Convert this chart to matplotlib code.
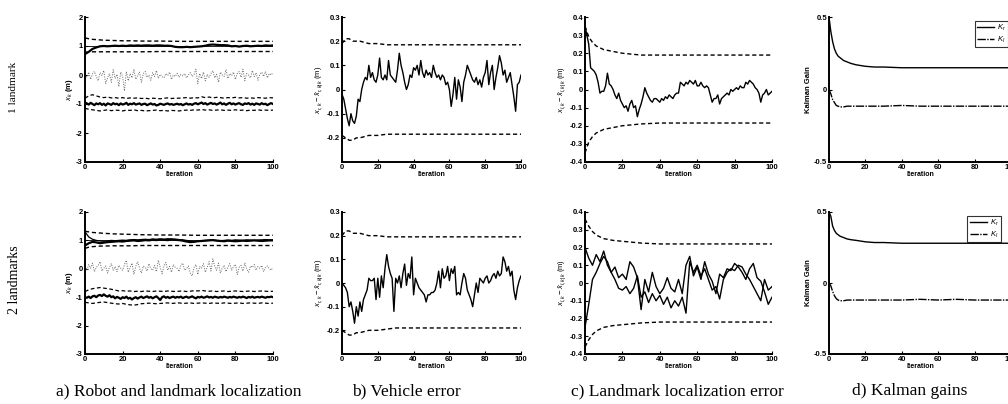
import matplotlib
matplotlib.use("Agg")
import matplotlib.pyplot as plt
import numpy as np

plt.rcParams['font.family'] = ['Liberation Sans', 'DejaVu Sans']
plt.rcParams['axes.unicode_minus'] = False
plt.rcParams['mathtext.fontset'] = 'custom'
plt.rcParams['mathtext.rm'] = 'Liberation Sans'
plt.rcParams['mathtext.it'] = 'Liberation Sans:italic'

# ---------------- data ----------------
iters = list(range(101))
iters2 = list(range(0, 101, 2))
bound_x = [0, 2, 4, 6, 8, 10, 15, 20, 25, 30, 40, 50, 60, 70, 80, 90, 100]

# panel a, 1 landmark
a1_landmark_est = [0.72, 0.80, 0.90, 0.95, 0.99, 1.00, 0.99, 1.00, 1.01, 1.00, 1.01, 1.00, 1.02, 1.01, 1.02, 1.01,
                   1.02, 1.02, 1.01, 1.02, 1.02, 1.01, 1.01, 1.00, 0.97, 0.96, 0.96, 0.97, 0.96, 0.97, 0.98, 0.99,
                   1.01, 1.04, 1.05, 1.04, 1.03, 1.03, 1.02, 0.99, 1.00, 0.98, 1.00, 1.01, 0.99, 1.00, 1.01, 1.00,
                   1.02, 1.01, 1.02]
a1_landmark_up = [1.28, 1.25, 1.23, 1.22, 1.21, 1.20, 1.19, 1.18, 1.18, 1.17, 1.17, 1.16, 1.16, 1.16, 1.16, 1.16, 1.16]
a1_landmark_lo = [0.79, 0.79, 0.80, 0.80, 0.80, 0.80, 0.80, 0.80, 0.80, 0.80, 0.81, 0.81, 0.81, 0.81, 0.81, 0.81, 0.81]
a1_meas = [0.02, -0.08, 0.10, -0.15, 0.05, 0.12, -0.05, -0.20, 0.08, -0.02, 0.15, -0.30, -0.10, 0.05, -0.25, 0.18,
           -0.12, 0.02, -0.40, 0.10, -0.05, -0.55, 0.12, -0.20, 0.05, -0.10, 0.20, -0.15, -0.02, 0.10, -0.25, 0.05,
           0.12, -0.08, 0.00, -0.18, 0.08, -0.05, 0.15, -0.12, 0.02, -0.05, -0.10, 0.05, -0.02, 0.10, -0.15, 0.00,
           -0.05, 0.06, -0.08, 0.02, -0.03, 0.05, -0.10, 0.00, 0.08, -0.05, 0.02, 0.20, -0.30, 0.05, -0.12, 0.10,
           -0.20, 0.02, -0.08, 0.05, 0.15, -0.10, 0.02, -0.25, 0.10, 0.00, -0.05, 0.18, -0.12, 0.05, -0.02, 0.10,
           -0.15, 0.05, 0.12, -0.08, 0.20, -0.20, 0.05, 0.00, -0.10, 0.15, -0.05, 0.08, -0.18, 0.02, 0.10, -0.05,
           0.12, -0.10, 0.05, 0.00, 0.08]
a1_robot_est = [-0.95, -0.98, -1.02, -0.96, -1.00, -1.04, -0.98, -1.01, -0.97, -1.03, -0.99, -1.05, -0.98, -1.00,
                -1.03, -0.97, -1.01, -0.99, -1.04, -0.98, -1.02, -1.00, -0.96, -1.03, -0.99, -1.01, -0.97, -1.02,
                -1.00, -0.98, -1.03, -1.00, -0.99, -1.04, -1.01, -0.98, -1.02, -1.00, -1.05, -1.03, -0.99, -1.01,
                -1.03, -1.00, -0.98, -1.02, -1.00, -1.03, -1.01, -0.99, -1.02, -1.00, -1.04, -1.01, -0.98, -1.02,
                -1.00, -1.03, -0.99, -0.97, -1.01, -0.98, -0.95, -1.00, -0.97, -1.02, -0.99, -0.96, -1.00, -0.98,
                -1.02, -0.99, -0.95, -1.01, -0.98, -1.03, -0.99, -0.96, -1.01, -0.98, -1.02, -0.99, -0.97, -1.01,
                -1.03, -0.98, -1.00, -0.97, -1.02, -0.99, -1.03, -0.98, -1.00, -1.02, -0.97, -1.01, -0.99, -1.04,
                -1.00, -0.97, -1.00]
a1_robot_up = [-0.80, -0.72, -0.68, -0.72, -0.76, -0.78, -0.76, -0.79, -0.78, -0.80, -0.78, -0.81, -0.79, -0.80,
               -0.79, -0.81, -0.80, -0.82, -0.80, -0.81, -0.82, -0.80, -0.79, -0.81, -0.80, -0.80, -0.79, -0.78,
               -0.80, -0.78, -0.79, -0.75, -0.78, -0.76, -0.79, -0.77, -0.78, -0.80, -0.78, -0.79, -0.77, -0.79,
               -0.78, -0.80, -0.79, -0.80, -0.78, -0.79, -0.80, -0.78, -0.79]
a1_robot_lo = [-1.15, -1.18, -1.20, -1.22, -1.24, -1.22, -1.20, -1.23, -1.21, -1.22, -1.24, -1.21, -1.22, -1.20,
               -1.23, -1.22, -1.24, -1.23, -1.22, -1.21, -1.23, -1.22, -1.24, -1.22, -1.23, -1.24, -1.22, -1.21,
               -1.22, -1.20, -1.21, -1.19, -1.21, -1.20, -1.22, -1.21, -1.20, -1.22, -1.21, -1.22, -1.20, -1.22,
               -1.21, -1.23, -1.21, -1.22, -1.20, -1.22, -1.21, -1.22, -1.21]

# panel a, 2 landmarks
a2_landmark1_est = [1.30, 1.12, 1.04, 1.00, 0.98, 0.97, 0.98, 1.00, 0.99, 1.00, 1.01, 1.00, 1.02, 1.03, 1.02, 1.03,
                    1.04, 1.03, 1.05, 1.04, 1.05, 1.04, 1.06, 1.05, 1.04, 1.03, 1.02, 1.00, 0.98, 0.96, 0.97, 0.99,
                    1.00, 1.01, 1.02, 1.00, 0.99, 1.00, 1.01, 1.00, 1.02, 1.01, 1.00, 1.02, 1.01, 1.00, 1.01, 1.02,
                    1.03, 1.02, 1.02]
a2_landmark2_est = [0.82, 0.90, 0.95, 0.93, 0.90, 0.92, 0.94, 0.95, 0.96, 0.97, 0.96, 0.98, 0.99, 1.00, 0.98, 0.99,
                    1.01, 1.00, 1.02, 1.01, 1.03, 1.02, 1.01, 1.03, 1.02, 1.01, 0.99, 0.96, 0.94, 0.95, 0.97, 0.98,
                    0.99, 1.00, 1.01, 0.99, 0.98, 0.97, 0.99, 0.98, 0.97, 0.98, 0.99, 0.98, 0.99, 1.00, 0.99, 0.98,
                    0.99, 1.00, 1.00]
a2_landmark_up = [1.32, 1.30, 1.28, 1.27, 1.26, 1.25, 1.23, 1.22, 1.21, 1.20, 1.19, 1.19, 1.18, 1.18, 1.18, 1.18, 1.18]
a2_landmark_lo = [0.72, 0.76, 0.78, 0.79, 0.80, 0.80, 0.81, 0.81, 0.81, 0.82, 0.82, 0.82, 0.82, 0.82, 0.82, 0.82, 0.82]
a2_meas = [0.10, -0.05, 0.15, 0.02, 0.20, -0.10, 0.05, 0.12, 0.25, -0.08, 0.02, 0.10, -0.15, 0.05, 0.18, -0.05,
           0.08, -0.10, 0.12, 0.02, -0.05, 0.15, 0.30, -0.12, 0.05, 0.20, -0.20, 0.08, 0.25, 0.02, -0.15, 0.10,
           0.05, -0.08, 0.18, 0.00, -0.05, 0.12, -0.10, 0.30, 0.05, -0.18, 0.10, 0.22, -0.05, 0.08, -0.12, 0.15,
           0.05, 0.02, -0.10, 0.12, 0.20, -0.05, 0.00, 0.10, -0.15, -0.25, 0.05, 0.15, -0.20, 0.08, 0.02, 0.18,
           -0.12, 0.05, 0.25, -0.08, 0.35, 0.10, -0.05, 0.20, -0.15, 0.02, 0.12, -0.10, 0.05, 0.18, -0.05, 0.08,
           0.15, -0.20, 0.05, 0.12, -0.08, 0.20, 0.00, -0.12, 0.10, 0.05, 0.15, -0.05, 0.08, 0.02, 0.12, -0.10,
           0.05, 0.10, 0.00, -0.05, 0.05]
a2_robot_est = [-1.00, -1.02, -0.98, -1.03, -0.97, -0.95, -1.00, -0.94, -0.92, -0.96, -0.90, -0.95, -0.98, -0.93,
                -1.00, -0.97, -1.04, -0.99, -1.02, -1.06, -1.00, -1.03, -0.98, -1.05, -1.02, -1.08, -1.03, -1.00,
                -1.05, -1.01, -0.98, -1.03, -1.00, -0.97, -1.02, -0.99, -1.04, -1.00, -0.97, -1.03, -1.10, -1.00,
                -0.97, -1.02, -0.99, -1.03, -1.00, -0.98, -1.02, -0.99, -1.01, -0.98, -1.03, -1.00, -0.98, -1.02,
                -1.00, -0.97, -1.01, -1.04, -0.99, -1.01, -0.98, -1.02, -1.00, -0.97, -1.01, -0.99, -1.02, -0.98,
                -1.00, -1.02, -0.99, -1.01, -0.98, -1.00, -1.02, -0.99, -1.01, -0.98, -1.00, -1.02, -0.99, -1.01,
                -0.98, -1.00, -1.03, -0.99, -1.01, -0.98, -1.02, -1.00, -0.99, -1.01, -0.98, -1.00, -1.02, -0.99,
                -1.00, -0.98, -1.00]
a2_robot_up = [-0.80, -0.74, -0.70, -0.68, -0.66, -0.68, -0.70, -0.72, -0.75, -0.78, -0.77, -0.79, -0.78, -0.80,
               -0.79, -0.80, -0.78, -0.79, -0.80, -0.78, -0.79, -0.80, -0.78, -0.79, -0.80, -0.79, -0.78, -0.80,
               -0.79, -0.77, -0.78, -0.76, -0.78, -0.79, -0.78, -0.80, -0.79, -0.78, -0.80, -0.79, -0.78, -0.79,
               -0.80, -0.79, -0.78, -0.80, -0.79, -0.78, -0.79, -0.80, -0.79]
a2_robot_lo = [-1.18, -1.20, -1.22, -1.20, -1.18, -1.17, -1.19, -1.21, -1.23, -1.24, -1.22, -1.25, -1.27, -1.28,
               -1.26, -1.23, -1.22, -1.21, -1.22, -1.23, -1.22, -1.21, -1.20, -1.22, -1.21, -1.20, -1.22, -1.21,
               -1.20, -1.22, -1.21, -1.20, -1.21, -1.22, -1.20, -1.21, -1.22, -1.20, -1.21, -1.22, -1.21, -1.20,
               -1.22, -1.21, -1.20, -1.21, -1.22, -1.20, -1.21, -1.22, -1.21]

# panel b, vehicle error
b1_err = [-0.02, -0.04, -0.08, -0.12, -0.15, -0.10, -0.13, -0.14, -0.11, -0.04, -0.05,
          0.00, 0.03, 0.05, 0.04, 0.10, 0.05, 0.07, 0.04, 0.03, 0.06,
          0.13, 0.05, 0.04, 0.06, 0.04, 0.12, 0.06, 0.05, 0.04, 0.03,
          0.08, 0.15, 0.10, 0.07, 0.03, 0.00, 0.02, 0.06, 0.05, 0.09,
          0.08, 0.10, 0.06, 0.12, 0.07, 0.05, 0.08, 0.06, 0.07, 0.05,
          0.10, 0.07, 0.05, 0.06, 0.04, 0.06, 0.05, 0.02, 0.03, 0.00,
          -0.07, -0.02, 0.05, -0.04, 0.04, 0.01, -0.05, 0.03, 0.06, 0.10,
          0.08, 0.06, 0.04, 0.03, 0.05, 0.02, 0.04, 0.01, 0.05, 0.07,
          0.12, 0.02, 0.07, 0.10, 0.00, 0.05, 0.09, 0.14, 0.11, 0.06,
          0.08, 0.03, 0.05, 0.07, 0.02, -0.03, -0.09, 0.02, 0.03, 0.06]
b1_up = [0.19, 0.21, 0.21, 0.20, 0.20, 0.20, 0.19, 0.19, 0.185, 0.185, 0.185, 0.185, 0.185, 0.185, 0.185, 0.185, 0.185]
b1_lo = [-0.19, -0.20, -0.21, -0.21, -0.20, -0.20, -0.19, -0.19, -0.185, -0.185, -0.185, -0.185, -0.185, -0.185,
         -0.185, -0.185, -0.185]
b2_err = [0.00, -0.01, -0.02, -0.04, -0.10, -0.08, -0.12, -0.17, -0.10, -0.14, -0.08,
          -0.12, -0.07, -0.05, -0.03, 0.02, 0.01, 0.01, 0.02, -0.07, 0.02,
          -0.06, 0.03, -0.02, 0.06, 0.12, 0.07, 0.04, 0.02, -0.12, 0.02,
          0.00, 0.03, -0.02, 0.04, 0.08, -0.01, 0.04, 0.02, 0.11, -0.05,
          0.02, 0.00, -0.02, -0.03, -0.04, -0.05, -0.08, -0.05, -0.05, -0.04,
          -0.04, -0.03, 0.00, 0.05, -0.02, 0.06, 0.02, 0.03, 0.07, 0.01,
          0.06, 0.04, 0.07, -0.05, -0.04, -0.05, 0.00, 0.04, 0.02, -0.03,
          -0.05, -0.07, -0.10, -0.05, 0.00, -0.04, 0.02, 0.01, 0.00, 0.02,
          0.03, 0.00, 0.01, 0.03, 0.04, 0.02, 0.05, 0.03, 0.04, 0.11,
          0.09, 0.05, 0.07, 0.03, 0.05, -0.03, -0.07, -0.02, 0.01, 0.03]
b2_up = [0.20, 0.22, 0.22, 0.21, 0.21, 0.21, 0.20, 0.20, 0.195, 0.195, 0.195, 0.195, 0.195, 0.195, 0.195, 0.195, 0.195]
b2_lo = [-0.20, -0.21, -0.22, -0.22, -0.21, -0.21, -0.20, -0.20, -0.195, -0.19, -0.19, -0.19, -0.19, -0.19, -0.19,
         -0.19, -0.19]

# panel c, landmark error
c1_err = [0.35, 0.30, 0.25, 0.12, 0.11, 0.10, 0.08, 0.04, -0.02, -0.01, -0.01,
          0.02, 0.09, 0.03, 0.02, 0.00, -0.03, -0.05, -0.02, -0.06, -0.08,
          -0.10, -0.09, -0.12, -0.08, -0.06, -0.10, -0.09, -0.15, -0.11, -0.08,
          -0.04, 0.01, -0.02, -0.04, -0.06, -0.07, -0.05, -0.05, -0.06, -0.07,
          -0.05, -0.06, -0.04, -0.05, -0.03, -0.04, -0.05, -0.03, -0.02, -0.02,
          0.04, 0.03, 0.02, 0.04, 0.03, 0.05, 0.04, 0.03, 0.05, 0.02,
          0.02, 0.04, 0.02, 0.01, 0.02, 0.01, -0.03, -0.07, -0.05, -0.05,
          -0.03, -0.08, -0.05, -0.04, -0.03, -0.02, -0.03, 0.00, -0.01, 0.00,
          0.01, 0.00, 0.02, 0.01, 0.01, 0.04, 0.03, 0.05, 0.04, 0.03,
          0.01, 0.00, -0.02, -0.07, -0.03, -0.02, 0.00, -0.03, -0.02, -0.01]
c1_up = [0.35, 0.29, 0.26, 0.24, 0.23, 0.22, 0.21, 0.20, 0.195, 0.19, 0.19, 0.19, 0.19, 0.19, 0.19, 0.19, 0.19]
c1_lo = [-0.35, -0.29, -0.26, -0.24, -0.23, -0.22, -0.21, -0.20, -0.195, -0.19, -0.185, -0.185, -0.185, -0.185,
         -0.185, -0.185, -0.185]
c2_err_a = [0.20, 0.14, 0.10, 0.16, 0.12, 0.18, 0.10, 0.06, 0.02, -0.03, -0.04, -0.02, -0.06, -0.03, 0.04, -0.08,
            -0.05, -0.11, -0.06, -0.10, -0.07, -0.12, -0.08, -0.14, -0.10, -0.13, -0.08, -0.17, 0.12, 0.06, 0.10,
            0.04, 0.08, 0.02, -0.04, -0.02, -0.09, 0.02, 0.06, 0.08, 0.07, 0.10, 0.09, 0.05, 0.02, -0.02, -0.06,
            -0.10, 0.02, -0.04, -0.02]
c2_err_b = [-0.25, -0.12, 0.02, 0.06, 0.11, 0.15, 0.12, 0.06, 0.09, 0.03, 0.05, 0.02, 0.12, 0.09, 0.03, -0.15,
            0.02, -0.05, 0.06, -0.02, -0.06, -0.03, 0.03, -0.03, -0.05, 0.02, -0.06, 0.10, 0.15, 0.04, 0.09, 0.02,
            0.12, 0.05, 0.01, -0.06, 0.05, 0.03, 0.08, 0.07, 0.11, 0.09, 0.06, 0.02, 0.08, 0.11, 0.03, 0.01, -0.05,
            -0.12, -0.08]
c2_up = [0.36, 0.32, 0.29, 0.27, 0.26, 0.25, 0.24, 0.235, 0.23, 0.225, 0.22, 0.22, 0.22, 0.22, 0.22, 0.22, 0.22]
c2_lo = [-0.36, -0.32, -0.29, -0.27, -0.26, -0.25, -0.24, -0.235, -0.23, -0.225, -0.22, -0.22, -0.22, -0.22, -0.22,
         -0.22, -0.22]

# panel d, Kalman gains
gain_x = [0, 1, 2, 3, 4, 5, 6, 8, 10, 12, 15, 20, 25, 30, 40, 50, 60, 70, 80, 90, 100]
d1_kr = [0.50, 0.40, 0.33, 0.28, 0.25, 0.23, 0.22, 0.20, 0.19, 0.18, 0.17, 0.16, 0.155, 0.155, 0.15, 0.15, 0.15,
         0.15, 0.15, 0.15, 0.15]
d1_kl = [0.00, -0.03, -0.07, -0.09, -0.11, -0.115, -0.12, -0.12, -0.115, -0.115, -0.115, -0.115, -0.115, -0.115,
         -0.11, -0.115, -0.115, -0.115, -0.115, -0.115, -0.115]
d2_kr = [0.50, 0.47, 0.40, 0.37, 0.35, 0.34, 0.33, 0.32, 0.31, 0.305, 0.30, 0.29, 0.285, 0.285, 0.28, 0.28, 0.28,
         0.28, 0.28, 0.28, 0.28]
d2_kl = [0.00, -0.02, -0.06, -0.09, -0.11, -0.12, -0.125, -0.125, -0.12, -0.12, -0.12, -0.12, -0.12, -0.12, -0.12,
         -0.115, -0.12, -0.115, -0.12, -0.12, -0.12]

xticks = [0, 20, 40, 60, 80, 100]
row_labels = ["1 landmark", "2 landmarks"]
captions = ["a) Robot and landmark localization", "b) Vehicle error",
            "c) Landmark localization error", "d) Kalman gains"]
gain_names = ["$K_r$", "$K_l$"]

# ---------------- figure ----------------
W, H = 1008, 404
fig = plt.figure(figsize=(W / 100, H / 100), dpi=100)
fig.patch.set_facecolor('white')

cols = [(85, 273), (342, 521), (585, 772), (829, 1011)]
rows = [(17, 162), (212, 354)]

def make_ax(c, r):
    x0, x1 = cols[c]
    y0, y1 = rows[r]
    ax = fig.add_axes([x0 / W, 1 - y1 / H, (x1 - x0) / W, (y1 - y0) / H])
    for s in ['top', 'right']:
        ax.spines[s].set_visible(False)
    for s in ['left', 'bottom']:
        ax.spines[s].set_linewidth(1.4)
    ax.set_xlim(0, 100)
    ax.set_xticks(xticks)
    ax.tick_params(direction='in', length=2, width=0.8, labelsize=5.5, pad=1.5)
    ax.set_xlabel("Iteration", fontsize=5, fontweight='bold', labelpad=0)
    return ax

ylabels = ["$x_k$ (m)", "$x_{r,k}-\\hat{x}_{r,k|k}$ (m)", "$x_{l,k}-\\hat{x}_{l,k|k}$ (m)", "Kalman Gain"]

dash = (0, (3, 2))
for r in range(2):
    # panel a
    ax = make_ax(0, r)
    if r == 0:
        ax.plot(iters2, a1_landmark_est, color='black', lw=1.6)
        ax.plot(bound_x, a1_landmark_up, color='black', lw=1.0, ls=dash)
        ax.plot(bound_x, a1_landmark_lo, color='black', lw=1.0, ls=dash)
        ax.plot(iters, a1_meas, color='#666666', lw=0.7, ls=(0, (1, 1.5)))
        ax.plot(iters, a1_robot_est, color='black', lw=1.6)
        ax.plot(iters2, a1_robot_up, color='black', lw=0.9, ls=dash)
        ax.plot(iters2, a1_robot_lo, color='black', lw=0.9, ls=dash)
    else:
        ax.plot(iters2, a2_landmark1_est, color='black', lw=0.9)
        ax.plot(iters2, a2_landmark2_est, color='black', lw=1.6)
        ax.plot(bound_x, a2_landmark_up, color='black', lw=1.0, ls=dash)
        ax.plot(bound_x, a2_landmark_lo, color='black', lw=1.0, ls=dash)
        ax.plot(iters, a2_meas, color='#666666', lw=0.7, ls=(0, (1, 1.5)))
        ax.plot(iters, a2_robot_est, color='black', lw=1.6)
        ax.plot(iters2, a2_robot_up, color='black', lw=0.9, ls=dash)
        ax.plot(iters2, a2_robot_lo, color='black', lw=0.9, ls=dash)
    ax.axhline(1, color='black', lw=0.6)
    ax.set_ylim(-3, 2)
    ax.set_yticks([-3, -2, -1, 0, 1, 2])
    ax.set_ylabel(ylabels[0], fontsize=5.5, fontweight='bold', labelpad=1)

    # panel b
    ax = make_ax(1, r)
    err = b1_err if r == 0 else b2_err
    up = b1_up if r == 0 else b2_up
    lo = b1_lo if r == 0 else b2_lo
    ax.plot(iters, err, color='black', lw=1.0)
    ax.plot(bound_x, up, color='black', lw=1.0, ls=dash)
    ax.plot(bound_x, lo, color='black', lw=1.0, ls=dash)
    ax.set_ylim(-0.3, 0.3)
    ax.set_yticks([-0.2, -0.1, 0, 0.1, 0.2, 0.3])
    ax.set_yticklabels(['-0.2', '-0.1', '0', '0.1', '0.2', '0.3'])
    ax.set_ylabel(ylabels[1], fontsize=5.5, labelpad=1)

    # panel c
    ax = make_ax(2, r)
    if r == 0:
        ax.plot(iters, c1_err, color='black', lw=1.0)
        ax.plot(bound_x, c1_up, color='black', lw=1.0, ls=dash)
        ax.plot(bound_x, c1_lo, color='black', lw=1.0, ls=dash)
    else:
        ax.plot(iters2, c2_err_a, color='black', lw=1.0)
        ax.plot(iters2, c2_err_b, color='black', lw=1.0)
        ax.plot(bound_x, c2_up, color='black', lw=1.0, ls=dash)
        ax.plot(bound_x, c2_lo, color='black', lw=1.0, ls=dash)
    ax.set_ylim(-0.4, 0.4)
    ax.set_yticks([-0.4, -0.3, -0.2, -0.1, 0, 0.1, 0.2, 0.3, 0.4])
    ax.set_yticklabels(['-0.4', '-0.3', '-0.2', '-0.1', '0', '0.1', '0.2', '0.3', '0.4'])
    ax.set_ylabel(ylabels[2], fontsize=5.5, labelpad=1)

    # panel d
    ax = make_ax(3, r)
    kr = d1_kr if r == 0 else d2_kr
    kl = d1_kl if r == 0 else d2_kl
    ax.plot(gain_x, kr, color='black', lw=1.0, label=gain_names[0])
    ax.plot(gain_x, kl, color='black', lw=1.0, ls=(0, (6, 1, 1, 1)), label=gain_names[1])
    ax.set_ylim(-0.5, 0.5)
    ax.set_yticks([-0.5, 0, 0.5])
    ax.set_yticklabels(['-0.5', '0', '0.5'])
    ax.set_ylabel(ylabels[3], fontsize=5.5, fontweight='bold', labelpad=1)
    leg = ax.legend(loc='upper left', bbox_to_anchor=(0.78 if r == 0 else 0.74, 1.0), fontsize=5.5,
                    frameon=True, fancybox=False, edgecolor='black', handlelength=2.2,
                    borderpad=0.3, labelspacing=0.2, handletextpad=0.4)
    leg.get_frame().set_linewidth(0.8)

for ax in fig.axes:
    for lab in ax.get_xticklabels() + ax.get_yticklabels():
        lab.set_fontweight('bold')

serif = ['Liberation Serif', 'DejaVu Serif']
fig.text(14 / W, 1 - 87 / H, row_labels[0], rotation=90, ha='center', va='center', family=serif, fontsize=8.2)
fig.text(14 / W, 1 - 280 / H, row_labels[1], rotation=90, ha='center', va='center', family=serif, fontsize=10)
cap_x = [179, 406, 677, 910]
for cx, cap in zip(cap_x, captions):
    fig.text(cx / W, 1 - 391 / H, cap, ha='center', va='center', family=serif, fontsize=12.5)

fig.savefig("out.png", dpi=100, facecolor='white')
